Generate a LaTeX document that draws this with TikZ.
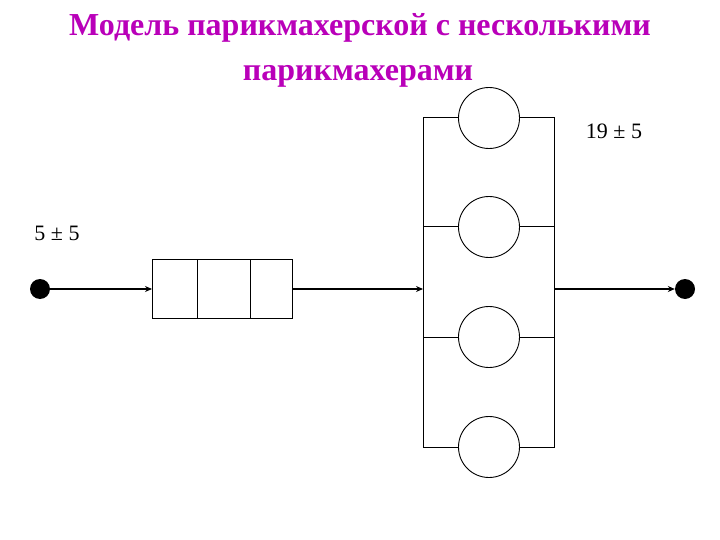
\documentclass[tikz,border=0pt]{standalone}
\usepackage{fontspec}
\setmainfont{Liberation Serif}
\usetikzlibrary{arrows.meta}
\definecolor{titlecol}{RGB}{185,0,185}
\tikzset{
  dot/.style={circle,fill=black,inner sep=0pt,minimum size=18bp},
  server/.style={circle,draw,line width=0.9bp,inner sep=0pt,minimum size=61bp},
  qbox/.style={rectangle,draw,line width=1bp,inner sep=0pt,minimum width=140bp,minimum height=59bp},
  flow/.style={line width=1.6bp,-{Stealth[length=7bp,width=6bp]}},
  thin/.style={line width=1bp},
  lbl/.style={font=\fontsize{22bp}{26bp}\selectfont,inner sep=0pt},
  ttl/.style={font=\fontsize{32bp}{38bp}\selectfont\bfseries,text=titlecol,inner sep=0pt}
}
\begin{document}
\begin{tikzpicture}[x=1bp,y=-1bp]
\useasboundingbox (0,0) rectangle (720,540);
\node[ttl] (t1) at (360,28) {Модель парикмахерской с несколькими};
\node[ttl] (t2) at (358,76) {парикмахерами};
\node[lbl] (l1) at (614,131) {19 ± 5};
\node[lbl] (l2) at (57,233) {5 ± 5};
% source and sink
\node[dot,minimum width=18bp,minimum height=20bp] (src) at (40,289) {};
\node[dot,minimum width=16bp,minimum height=20bp] (snk) at (685,289) {};
% queue
\node[qbox] (q) at (222.5,289) {};
\draw[thin] (197,259.5) -- (197,318.5);
\draw[thin] (250,259.5) -- (250,318.5);
% servers
\coordinate (fTL) at (423,118);
\coordinate (fBR) at (554,447);
\draw[thin] (fTL) rectangle (fBR);
\node[server,fill=white] (s1) at (489,118) {};
\node[server,fill=white] (s2) at (489,227) {};
\node[server,fill=white] (s3) at (489,337) {};
\node[server,fill=white] (s4) at (489,447) {};
\draw[thin] (423,227) -- (s2.west) (s2.east) -- (554,227);
\draw[thin] (423,337) -- (s3.west) (s3.east) -- (554,337);
\coordinate (fin) at (423,289);
\coordinate (fout) at (554,289);
% flows
\draw[flow] (src.east) -- (q.west);
\draw[flow] (q.east) -- (fin);
\draw[flow] (fout) -- (snk.west);
\end{tikzpicture}
\end{document}
